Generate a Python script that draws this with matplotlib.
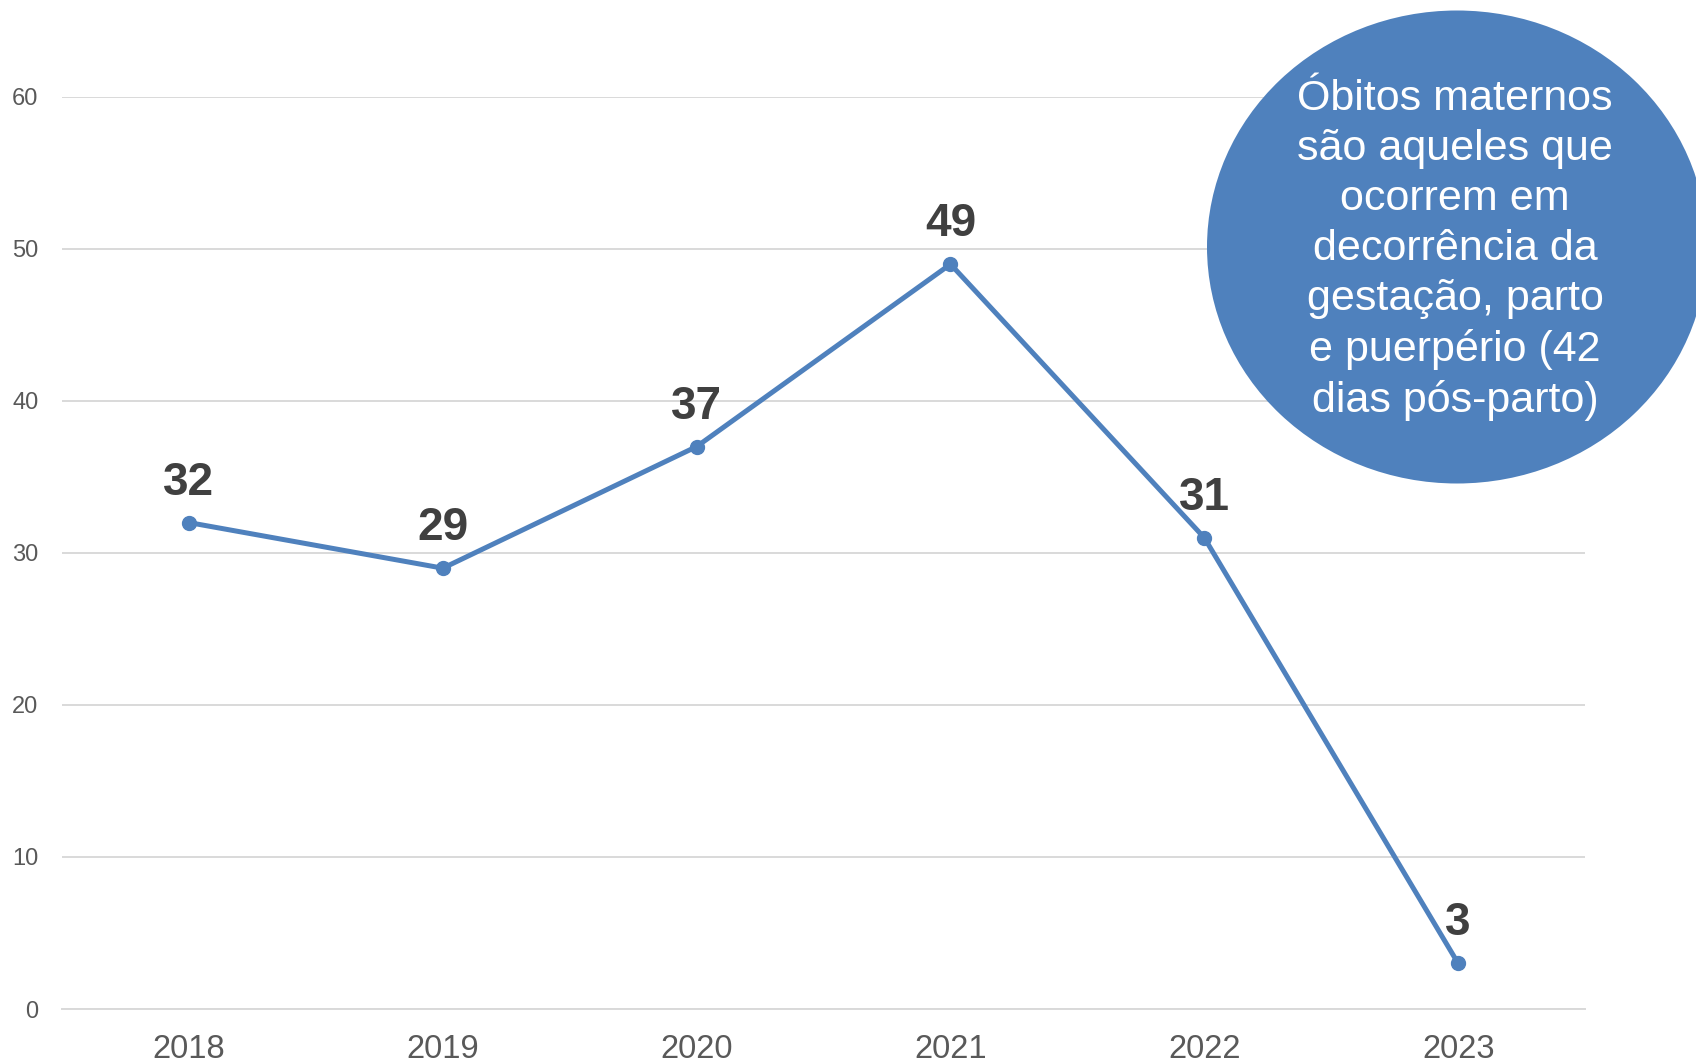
import matplotlib.pyplot as plt
from matplotlib.patches import Ellipse

plt.rcParams['font.family'] = ['Liberation Sans', 'DejaVu Sans']

# data
years = ['2018', '2019', '2020', '2021', '2022', '2023']
obitos = [32, 29, 37, 49, 31, 3]
y_ticks = [0, 10, 20, 30, 40, 50, 60]
note = ('Óbitos maternos\nsão aqueles que\nocorrem em\ndecorrência da\n'
        'gestação, parto\ne puerpério (42\ndias pós-parto)')

blue = '#4F81BD'

fig = plt.figure(figsize=(16.96, 10.62), dpi=100)
ax = fig.add_axes([0.0366, 0.0499, 0.898, 0.8588])

x = list(range(len(years)))
ax.plot(x, obitos, color=blue, linewidth=3.6, marker='o', markersize=10,
        clip_on=False, zorder=3)

for xi, v in zip(x, obitos):
    ax.annotate(str(v), (xi, v), xytext=(0, 13), textcoords='offset points',
                ha='center', va='bottom', fontsize=33, fontweight='bold',
                color='#404040', zorder=4)

ax.set_xlim(-0.5, 5.5)
ax.set_ylim(0, 60)
ax.set_xticks(x)
ax.set_xticklabels(years)
ax.set_yticks(y_ticks)
ax.grid(axis='y', color='#D9D9D9', linewidth=1.4)
ax.set_axisbelow(True)
for s in ['top', 'right', 'left']:
    ax.spines[s].set_visible(False)
ax.spines['bottom'].set_color('#D9D9D9')
ax.spines['bottom'].set_linewidth(1.4)
ax.tick_params(axis='x', length=0, labelsize=23.5, labelcolor='#595959', pad=18)
ax.tick_params(axis='y', length=0, labelsize=17, labelcolor='#595959', pad=17)

# callout circle top right
ell = Ellipse((1457 / 1696, 1 - 247 / 1062), 500 / 1696, 473 / 1062,
              transform=fig.transFigure, facecolor=blue, edgecolor='none',
              zorder=5)
fig.add_artist(ell)
fig.text(1455 / 1696, 1 - 250 / 1062, note, ha='center', va='center',
         fontsize=31, color='white', linespacing=1.32, zorder=6)

plt.savefig('out.png', dpi=100)
